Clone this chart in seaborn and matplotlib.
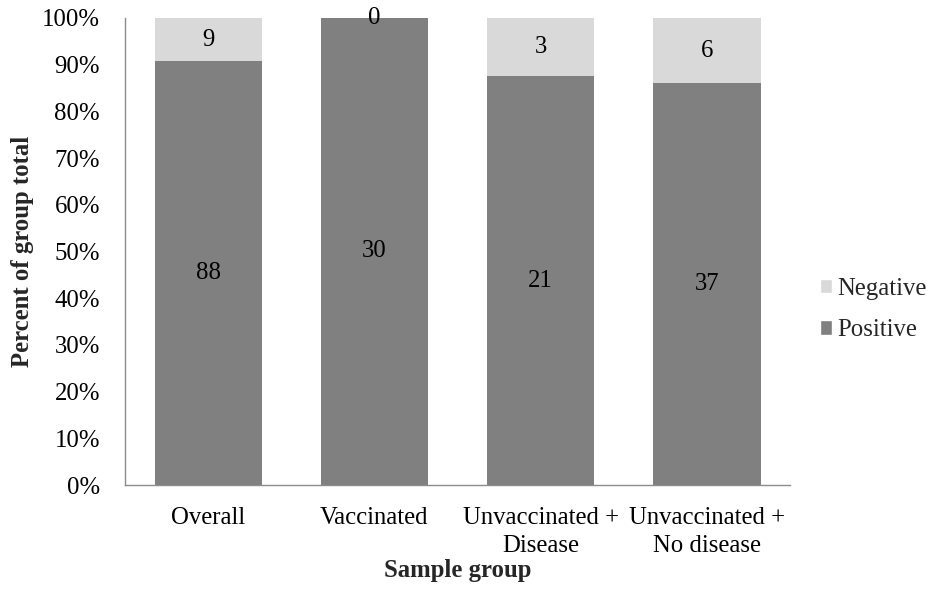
import matplotlib
matplotlib.use("Agg")
import matplotlib.pyplot as plt
import seaborn as sns
import pandas as pd
from matplotlib.patches import Patch

groups = ["Overall", "Vaccinated", "Unvaccinated +\nDisease", "Unvaccinated +\nNo disease"]
positive = [88, 30, 21, 37]
negative = [9, 0, 3, 6]

pos_color = "#808080"
neg_color = "#d9d9d9"
fs = 17.8

sns.set_theme(style="white")
plt.rcParams["font.family"] = ["Liberation Serif", "DejaVu Serif"]

totals = [p + n for p, n in zip(positive, negative)]
df = pd.DataFrame({
    "group": groups,
    "pos_pct": [100 * p / t for p, t in zip(positive, totals)],
    "all_pct": [100.0 for _ in totals],
})

fig = plt.figure(figsize=(9.35, 5.94), dpi=100)
ax = fig.add_axes([0.1337, 0.1835, 0.7113, 0.7862])

# Negative share sits on top of the positive share; draw the full bar first.
sns.barplot(data=df, x="group", y="all_pct", color=neg_color, width=0.645,
            saturation=1, linewidth=0, ax=ax)
sns.barplot(data=df, x="group", y="pos_pct", color=pos_color, width=0.645,
            saturation=1, linewidth=0, ax=ax)

for i, (p, n, t) in enumerate(zip(positive, negative, totals)):
    pp = 100 * p / t
    npct = 100 * n / t
    ax.text(i, pp / 2, str(p), ha="center", va="center", fontsize=fs,
            color="black", clip_on=False)
    ax.text(i, pp + npct / 2, str(n), ha="center", va="center", fontsize=fs,
            color="black", clip_on=False)

ax.set_xlim(-0.5, 3.5)
ax.set_ylim(0, 100)
ax.set_yticks(range(0, 101, 10))
ax.set_yticklabels([f"{v}%" for v in range(0, 101, 10)])
ax.tick_params(axis="both", length=0, labelsize=fs, colors="black")
ax.tick_params(axis="x", pad=16)
ax.tick_params(axis="y", pad=18)
for lbl in ax.get_xticklabels():
    lbl.set_linespacing(1.32)

for side in ["top", "right"]:
    ax.spines[side].set_visible(False)
for side in ["left", "bottom"]:
    ax.spines[side].set_color("#8c8c8c")
    ax.spines[side].set_linewidth(1.0)

ax.set_xlabel("Sample group", fontsize=fs, fontweight="bold", labelpad=2)
ax.set_ylabel("Percent of group total", fontsize=fs, fontweight="bold", labelpad=6)

handles = [Patch(facecolor=neg_color, label="Negative"),
           Patch(facecolor=pos_color, label="Positive")]
ax.legend(handles=handles, loc="center left", bbox_to_anchor=(1.045, 0.376),
          frameon=False, fontsize=fs, handlelength=0.5, handleheight=0.5,
          handletextpad=0.2, labelspacing=0.8, borderpad=0, borderaxespad=0)

fig.savefig("out.png", dpi=100)
